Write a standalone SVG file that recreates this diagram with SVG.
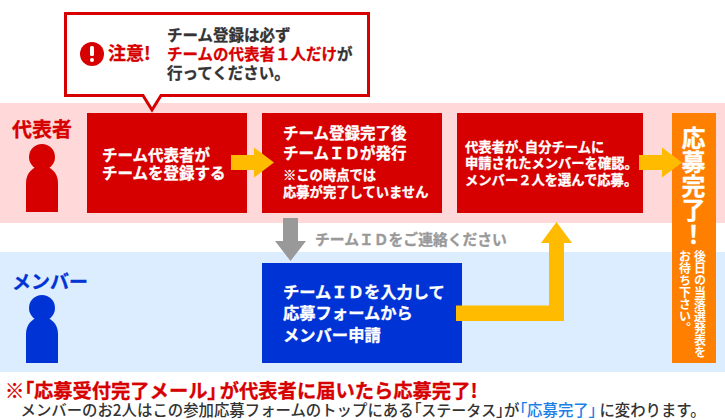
<svg xmlns="http://www.w3.org/2000/svg" width="725" height="420" viewBox="0 0 725 420">
<style>
text{font-family:"Noto Sans CJK JP","Liberation Sans",sans-serif;font-weight:700}
.w{fill:#fff;stroke:#fff;stroke-width:.3px}
.r{fill:#d60000;stroke:#d60000;stroke-width:.3px}
.b{fill:#0033d6;stroke:#0033d6;stroke-width:.3px}
.d{fill:#333;stroke:#333;stroke-width:.3px}
.y{fill:#ffbb00}
.s15{font-size:15.500px}
.s13{font-size:13.300px}
.v{writing-mode:vertical-rl}
.p{font-feature-settings:"palt"}
</style>
<rect width="725" height="420" fill="#fff"/>
<rect id="band-rep" x="0" y="103" width="725" height="120" fill="#ffd9d9"/>
<rect id="band-mem" x="0" y="252" width="725" height="120" fill="#dcedff"/>
<g id="callout">
<path d="M65.500 13.500H368.500V95.500H161L152 110L143 95.500H65.500Z" fill="#fff" stroke="#d60000" stroke-width="3"/>
<circle cx="92" cy="54" r="12" fill="#d60000"/>
<rect x="90" y="46" width="4" height="10" rx="1.500" fill="#fff"/>
<circle cx="92" cy="60" r="2" fill="#fff"/>
<text x="108" y="60" font-size="18" class="r">注意!</text>
<text x="167" y="41" class="s15 d">チーム登録は必ず</text>
<text x="167" y="60" class="s15 r">チームの代表者１人だけ<tspan class="d">が</tspan></text>
<text x="167" y="79" class="s15 d">行ってください。</text>
</g>
<g id="actor-rep">
<text x="12" y="137" font-size="20" class="r">代表者</text>
<circle cx="42" cy="157" r="13" fill="#d60000"/>
<path d="M26 212V183C26 172 34 166 42 166C50 166 58 172 58 183V212Z" fill="#d60000"/>
</g>
<g id="actor-mem">
<text x="12" y="289" font-size="19" class="b">メンバー</text>
<circle cx="42" cy="308" r="13" fill="#0033d6"/>
<path d="M26 363V334C26 323 34 317 42 317C50 317 58 323 58 334V363Z" fill="#0033d6"/>
</g>
<text id="label-id" x="315" y="245" font-size="14.800" fill="#999" stroke="#999" stroke-width=".3">チームＩＤをご連絡ください</text>
<g id="node-1">
<rect x="87" y="113" width="160" height="100" fill="#d60000"/>
<text x="102" y="161" class="s15 w">チーム代表者が</text>
<text x="102" y="179" class="s15 w">チームを登録する</text>
</g>
<g id="node-2">
<rect x="262" y="113" width="180" height="100" fill="#d60000"/>
<text x="283" y="139" class="s15 w">チーム登録完了後</text>
<text x="283" y="159" class="s15 w">チームＩＤが発行</text>
<text x="283" y="180" class="s13 w">※この時点では</text>
<text x="283" y="197" class="s13 w">応募が完了していません</text>
</g>
<g id="node-3">
<rect x="457" y="113" width="186" height="100" fill="#d60000"/>
<text x="465" y="152" class="s13 w">代表者が<tspan class="p">、</tspan>自分チームに</text>
<text x="465" y="168" class="s13 w">申請されたメンバーを確認。</text>
<text x="465" y="185" class="s13 w">メンバー２人を選んで応募。</text>
</g>
<g id="node-4">
<rect x="262" y="263" width="200" height="100" fill="#0033d6"/>
<text x="283" y="298" font-size="16.300" class="w">チームＩＤを入力して</text>
<text x="283" y="319" font-size="16.300" class="w">応募フォームから</text>
<text x="283" y="341" font-size="16.300" class="w">メンバー申請</text>
</g>
<g id="node-5">
<rect x="672" y="113" width="44" height="250" fill="#ff8000"/>
<text x="693.500" y="126" font-size="24" class="w v">応募完了！</text>
<text x="700" y="250" font-size="12" class="v" fill="#fff">後日の当落選発表を</text>
<text x="685" y="250" font-size="12" class="v" fill="#fff">お待ち下さい。</text>
</g>
<g id="connectors">
<path class="y" d="M231 155H254V147.500L274 162.500L254 177.500V170H231Z"/>
<path class="y" d="M639 155H662V147.500L682 162.500L662 177.500V170H639Z"/>
<path class="y" d="M456 305.500H549V243H541L556.500 222L572 243H564V321H456Z"/>
<path fill="#999" d="M283 218H298V241H306L290.500 261L275 241H283Z"/>
</g>
<g id="note">
<text x="5" y="398" font-size="19.300" class="r">※<tspan class="p">「</tspan>応募受付完了メール<tspan class="p">」</tspan><tspan dx="2.700">が代表者に届いたら応募完了!</tspan></text>
<text x="20.500" y="416" font-size="15.400" style="font-weight:500" fill="#333">メンバーのお2人はこの参加応募フォームのトップにある<tspan class="p">「</tspan><tspan font-size="15">ステータス</tspan><tspan class="p">」</tspan>が<tspan fill="#1a80e6"><tspan class="p">「</tspan>応募完了<tspan class="p">」</tspan></tspan><tspan dx="3">に変わります。</tspan></text>
</g>
</svg>
